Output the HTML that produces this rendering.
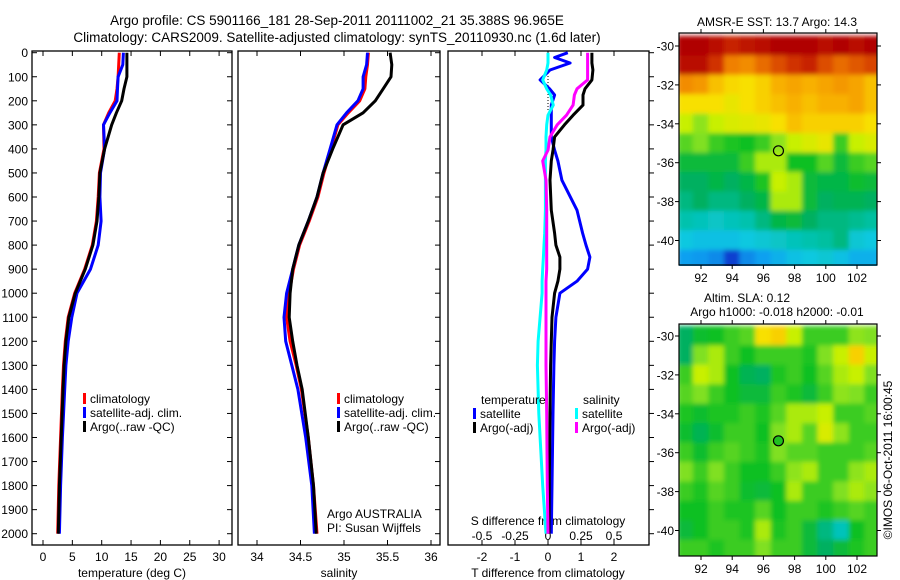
<!DOCTYPE html>
<html><head><meta charset="utf-8"><style>
html,body{margin:0;padding:0;background:#fff;}
svg{display:block;font-family:"Liberation Sans",sans-serif;}
text{font-size:12px;fill:#000;}
</style></head><body>
<svg id="fig" width="900" height="580" viewBox="0 0 900 580" xmlns="http://www.w3.org/2000/svg">
<defs>
<filter id="blur" x="-0.1" y="-0.1" width="1.2" height="1.2"><feGaussianBlur stdDeviation="2.5"/></filter>
<clipPath id="clipTop"><rect x="679" y="33" width="198" height="233"/></clipPath>
<clipPath id="clipBot"><rect x="679" y="324" width="198" height="232"/></clipPath>
</defs>
<text x="337" y="25" text-anchor="middle" style="font-size:13.5px">Argo profile: CS 5901166_181 28-Sep-2011 20111002_21 35.388S 96.965E</text>
<text x="337" y="42" text-anchor="middle" style="font-size:13.5px">Climatology: CARS2009. Satellite-adjusted climatology: synTS_20110930.nc (1.6d later)</text>
<g id="g"></g>
</svg>
<script>
// ---- profile data ----
const depths = [0,50,100,150,200,250,300,400,500,600,700,800,900,1000,1100,1200,1300,1400,1600,1800,2000];
const tArgo = [14.3,14.3,14.3,13.8,13.4,12.5,11.7,10.5,9.7,9.5,9.2,8.5,7.2,5.5,4.4,3.9,3.6,3.4,3.1,2.8,2.6];
const tClim = [13.0,12.9,12.8,12.6,12.3,11.2,10.3,10.4,9.6,9.4,9.1,8.4,7.1,5.4,4.3,3.8,3.5,3.3,3.0,2.7,2.5];
const tSat = [13.7,13.6,12.8,12.7,12.6,11.4,10.3,10.5,9.8,9.7,9.9,9.4,8.1,5.8,4.9,4.3,3.9,3.7,3.3,3.0,2.8];
const sArgo = [35.53,35.55,35.54,35.45,35.36,35.22,34.99,34.87,34.76,34.69,34.59,34.48,34.41,34.38,34.37,34.41,34.46,34.52,34.59,34.65,34.68];
const sClim = [35.28,35.27,35.25,35.24,35.18,35.05,34.93,34.85,34.77,34.70,34.60,34.49,34.42,34.37,34.34,34.38,34.45,34.51,34.59,34.65,34.69];
const sSat = [35.27,35.26,35.22,35.22,35.16,35.03,34.92,34.84,34.76,34.69,34.59,34.48,34.41,34.34,34.31,34.33,34.40,34.47,34.56,34.63,34.66];
const dDepths = [0,20,43,72,113,150,176,218,260,300,350,405,450,530,655,750,800,850,900,950,1000,1100,1200,1300,1500,1800,2000];
const dTSat = [0.6,0.2,0.67,0.06,-0.24,0.05,0.2,0.1,0.1,0.1,0.1,0.2,0.3,0.42,0.88,1.05,1.15,1.27,1.2,0.88,0.36,0.24,0.2,0.18,0.15,0.12,0.1];
const dTArgo = [1.33,1.33,1.33,1.36,1.33,1.12,1.06,1.06,0.76,0.5,0.2,0.15,0.1,0.06,0.1,0.2,0.24,0.36,0.36,0.3,0.2,0.12,0.1,0.08,0.06,0.04,0.03];
const dSSat = [0,0,0,-0.01,-0.04,-0.01,0.02,0.04,0,-0.01,-0.015,-0.015,-0.02,-0.02,-0.02,-0.025,-0.03,-0.035,-0.04,-0.045,-0.045,-0.06,-0.075,-0.08,-0.07,-0.04,-0.015];
const dSArgo = [0.3,0.3,0.3,0.3,0.3,0.22,0.2,0.19,0.14,0.07,0.015,0,-0.04,-0.015,-0.01,-0.01,-0.01,-0.01,-0.01,-0.015,-0.015,-0.015,-0.015,-0.015,-0.01,-0.005,0];
const depthTicks = [0,100,200,300,400,500,600,700,800,900,1000,1100,1200,1300,1400,1500,1600,1700,1800,1900,2000];
const tTicks = [0,5,10,15,20,25,30];
const sTicks = [34,34.5,35,35.5,36];
const sTickLabels = ["34","34.5","35","35.5","36"];
const dtTicks = [-2,-1,0,1,2];
const dsTicks = [-0.5,-0.25,0,0.25,0.5];
const dsTickLabels = ["-0.5","-0.25","0","0.25","0.5"];
// ---- map data (colour index 0..1), lon 91..103, lat -30..-41 ----
const mapLons = [91,92,93,94,95,96,97,98,99,100,101,102,103];
const mapLats = [-30,-31,-32,-33,-34,-35,-36,-37,-38,-39,-40,-41];
const sstGrid = [
[.95,.95,.93,.9,.92,.93,.95,.95,.95,.93,.95,.93,.96],
[.93,.93,.88,.8,.78,.82,.85,.88,.9,.85,.82,.84,.86],
[.78,.76,.7,.67,.66,.68,.72,.74,.72,.74,.76,.74,.7],
[.66,.66,.66,.64,.66,.68,.7,.72,.7,.72,.72,.74,.7],
[.6,.56,.6,.62,.63,.64,.66,.7,.68,.68,.68,.68,.66],
[.52,.55,.5,.48,.47,.5,.56,.6,.62,.64,.5,.6,.62],
[.45,.45,.45,.45,.5,.58,.58,.47,.47,.52,.45,.5,.52],
[.42,.42,.44,.42,.44,.48,.6,.58,.45,.44,.44,.46,.45],
[.4,.42,.4,.4,.42,.44,.58,.58,.45,.42,.43,.43,.42],
[.37,.36,.35,.36,.37,.4,.44,.45,.42,.4,.4,.39,.38],
[.33,.32,.32,.32,.33,.34,.35,.36,.37,.38,.4,.34,.33],
[.28,.27,.25,.15,.25,.28,.3,.32,.33,.34,.32,.3,.3]];
const slaGrid = [
[.42,.46,.47,.5,.52,.66,.68,.6,.5,.5,.5,.56,.55],
[.42,.55,.58,.5,.47,.5,.5,.5,.48,.55,.6,.68,.6],
[.5,.6,.58,.47,.43,.42,.48,.5,.47,.52,.58,.6,.55],
[.52,.55,.5,.47,.45,.45,.5,.48,.45,.5,.56,.55,.5],
[.48,.46,.48,.48,.5,.48,.52,.58,.58,.6,.5,.5,.52],
[.46,.43,.46,.5,.5,.47,.55,.58,.52,.62,.56,.5,.5],
[.5,.46,.5,.52,.5,.48,.55,.52,.52,.5,.5,.5,.52],
[.55,.5,.55,.5,.47,.47,.5,.56,.58,.5,.5,.56,.58],
[.5,.48,.52,.5,.46,.45,.47,.58,.5,.5,.55,.58,.56],
[.47,.47,.5,.48,.48,.52,.47,.5,.5,.48,.5,.52,.5],
[.45,.47,.5,.5,.48,.58,.48,.5,.45,.4,.36,.47,.5],
[.5,.5,.48,.5,.5,.55,.5,.5,.45,.42,.45,.48,.5]];
const lonTicks = [92,94,96,98,100,102];
const latTicks = [-30,-32,-34,-36,-38,-40];
const argoLon = 96.965, argoLat = -35.388;

const NS='http://www.w3.org/2000/svg';
const G=document.getElementById('g');
function el(tag,attrs,parent){const e=document.createElementNS(NS,tag);for(const k in attrs)e.setAttribute(k,attrs[k]);(parent||G).appendChild(e);return e;}
function txt(x,y,s,anchor,parent,size){const t=el('text',{x:x,y:y,'text-anchor':anchor||'start'},parent);if(size)t.style.fontSize=size+'px';t.textContent=s;return t;}

const yD=d=>52.7+d*0.2405;
const tx=t=>43+t*5.87;
const sx=s=>257+(s-34)*87;
const dtx=t=>548+t*33;
const dsx=s=>548+s*132;
const TOP=51,BOT=545;
const panels=[[32,232],[238,440],[448,649]];

function line(xs,ds,fx,color,name,w){
  const pts=xs.map((v,i)=>fx(v).toFixed(1)+','+yD(ds[i]).toFixed(1)).join(' ');
  const p=el('polyline',{points:pts,fill:'none',stroke:color,'stroke-width':w||3,'stroke-linejoin':'round'});
  
  
}
panels.forEach((p,i)=>{
  const r=el('rect',{x:p[0],y:TOP,width:p[1]-p[0],height:BOT-TOP,fill:'none',stroke:'#000','stroke-width':1.3});
  
  
  depthTicks.forEach(d=>{
    if(i===0) el('line',{x1:p[0],x2:p[0]+5,y1:yD(d),y2:yD(d),stroke:'#000'});
    if(i<2) el('line',{x1:p[1],x2:p[1]-5,y1:yD(d),y2:yD(d),stroke:'#000'});
    else el('line',{x1:p[1],x2:p[1]+5,y1:yD(d),y2:yD(d),stroke:'#000'});
  });
});
depthTicks.forEach(d=>{
  const t=txt(28,yD(d)+4.5,String(d),'end');
  
  
});
function xticks(vals,labels,fx,ylab,top){
  vals.forEach((v,i)=>{
    el('line',{x1:fx(v),x2:fx(v),y1:BOT,y2:BOT-5,stroke:'#000'});
    if(top) el('line',{x1:fx(v),x2:fx(v),y1:TOP,y2:TOP+5,stroke:'#000'});
    const t=txt(fx(v),ylab,labels[i],'middle');
    
    
  });
}
xticks(tTicks,tTicks.map(String),tx,561,true);
xticks(sTicks,sTickLabels,sx,561,true);
xticks(dtTicks,dtTicks.map(String),dtx,561,true);
dsTicks.forEach((v,i)=>{const t=txt(dsx(v),540,dsTickLabels[i],'middle');
  
  });
[[132,'temperature (deg C)','temperature-axis-title'],[339,'salinity','salinity-axis-title'],[548,'T difference from climatology','t-diff-axis-title']].forEach(a=>{
  const t=txt(a[0],577,a[1],'middle');
  
  
});
const st=txt(548,525,'S difference from climatology','middle');



line(tClim,depths,tx,'#f00','temp-climatology-line');
line(tSat,depths,tx,'#00f','temp-satellite-line');
line(tArgo,depths,tx,'#000','temp-argo-line');
line(sClim,depths,sx,'#f00','sal-climatology-line');
line(sSat,depths,sx,'#00f','sal-satellite-line');
line(sArgo,depths,sx,'#000','sal-argo-line');
el('line',{x1:548,x2:548,y1:70,y2:110,stroke:'#000','stroke-dasharray':'1,2'});
line(dTSat,dDepths,dtx,'#00f','tdiff-satellite-line');
line(dTArgo,dDepths,dtx,'#000','tdiff-argo-line');
line(dSSat,dDepths,dsx,'#0ff','sdiff-satellite-line');
line(dSArgo,dDepths,dsx,'#f0f','sdiff-argo-line');

function leg(x,y,color,label,name){
  const g=el('g',{});
  
  
  el('rect',{x:x,y:y-10,width:3,height:11,fill:color},g);
  txt(x+7,y,label,'start',g);
}
[[83,'#f00','climatology'],[83,'#00f','satellite-adj. clim.'],[83,'#000','Argo(..raw -QC)']].forEach((l,i)=>leg(l[0],403+i*14,l[1],l[2],'legend-entry-temp-'+i));
[[337,'#f00','climatology'],[337,'#00f','satellite-adj. clim.'],[337,'#000','Argo(..raw -QC)']].forEach((l,i)=>leg(l[0],403+i*14,l[1],l[2],'legend-entry-sal-'+i));
txt(481,404,'temperature');txt(583,404,'salinity');
leg(473,418,'#00f','satellite','legend-tdiff-satellite');
leg(473,432,'#000','Argo(-adj)','legend-tdiff-argo');
leg(575,418,'#0ff','satellite','legend-sdiff-satellite');
leg(575,432,'#f0f','Argo(-adj)','legend-sdiff-argo');
txt(327,518,'Argo AUSTRALIA');txt(327,532,'PI: Susan Wijffels');

const stops=[[0.15,[16,64,208]],[0.28,[16,160,240]],[0.33,[16,200,224]],[0.38,[0,192,160]],[0.42,[0,176,96]],[0.47,[16,192,32]],[0.55,[128,224,32]],[0.6,[200,240,0]],[0.66,[248,224,0]],[0.72,[248,176,0]],[0.8,[240,128,0]],[0.88,[208,48,0]],[0.95,[176,0,0]]];
function cmap(v){
  if(v<=stops[0][0])return 'rgb('+stops[0][1]+')';
  for(let i=1;i<stops.length;i++){if(v<=stops[i][0]){const a=stops[i-1],b=stops[i],f=(v-a[0])/(b[0]-a[0]);
    return 'rgb('+a[1].map((c,k)=>Math.round(c+(b[1][k]-c)*f)).join(',')+')';}}
  return 'rgb('+stops[stops.length-1][1]+')';
}
function drawMap(grid,y0,yLat30,clip,name,dotFill){
  const lx=lon=>701+(lon-92)*15.6, ly=lat=>yLat30+(-30-lat)*19.45;
  const g=el('g',{'clip-path':'url(#'+clip+')'});
  
  
  const inner=el('g',{filter:'url(#blur)'},g);
  grid.forEach((row,r)=>row.forEach((v,c)=>{
    const cell=el('rect',{x:(lx(mapLons[c])-8.3).toFixed(1),y:(ly(mapLats[r])-10.2).toFixed(1),width:16.6,height:20.4,fill:cmap(v)},inner);
    
    
  }));
  const h=232;
  el('rect',{x:679,y:y0,width:198,height:h,fill:'none',stroke:'#000','stroke-width':1.2});
  lonTicks.forEach(l=>{el('line',{x1:lx(l),x2:lx(l),y1:y0+h,y2:y0+h+4,stroke:'#000'});
    el('line',{x1:lx(l),x2:lx(l),y1:y0,y2:y0-4,stroke:'#000'});
    const t=txt(lx(l),y0+h+17,String(l),'middle');
    
    });
  latTicks.forEach(l=>{el('line',{x1:679,x2:675,y1:ly(l),y2:ly(l),stroke:'#000'});
    el('line',{x1:877,x2:881,y1:ly(l),y2:ly(l),stroke:'#000'});
    const t=txt(674,ly(l)+4.5,String(l),'end');
    
    });
  const c=el('circle',{cx:lx(argoLon),cy:ly(argoLat),r:5,fill:dotFill||'none',stroke:'#000','stroke-width':1.2});
  
  
}
drawMap(sstGrid,33,46,'clipTop','sst-map');
drawMap(slaGrid,324,336,'clipBot','sla-map','#20c020');
txt(777,26,'AMSR-E SST: 13.7 Argo: 14.3','middle');
txt(747,302,'Altim. SLA: 0.12','middle');
txt(777,316,'Argo h1000: -0.018 h2000: -0.01','middle');
const cr=txt(0,0,'©IMOS 06-Oct-2011 16:00:45','middle');
cr.setAttribute('transform','translate(892,460) rotate(-90)');


</script>
</body></html>
